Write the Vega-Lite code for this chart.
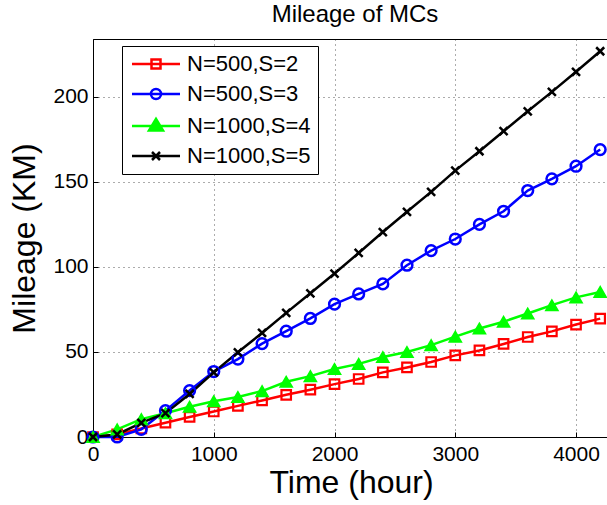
{
  "$schema": "https://vega.github.io/schema/vega-lite/v6.json",
  "width": 516,
  "height": 398,
  "autosize": "none",
  "padding": {"left": 93, "top": 39, "right": -2, "bottom": 68},
  "background": "white",
  "title": {"text": "Mileage of MCs", "font": "Liberation Sans", "fontSize": 24, "fontWeight": "normal", "color": "#000", "offset": 12, "dx": 4, "anchor": "middle"},
  "config": {"view": {"stroke": "#000", "strokeWidth": 1}},
  "data": {"values": [
    {"t":0,"v":0,"s":"N=500,S=2"},{"t":200,"v":1.5,"s":"N=500,S=2"},{"t":400,"v":5,"s":"N=500,S=2"},{"t":600,"v":8.4,"s":"N=500,S=2"},{"t":800,"v":11.8,"s":"N=500,S=2"},{"t":1000,"v":15,"s":"N=500,S=2"},{"t":1200,"v":18.3,"s":"N=500,S=2"},{"t":1400,"v":21.5,"s":"N=500,S=2"},{"t":1600,"v":24.8,"s":"N=500,S=2"},{"t":1800,"v":27.8,"s":"N=500,S=2"},{"t":2000,"v":31.1,"s":"N=500,S=2"},{"t":2200,"v":34.1,"s":"N=500,S=2"},{"t":2400,"v":38,"s":"N=500,S=2"},{"t":2600,"v":40.9,"s":"N=500,S=2"},{"t":2800,"v":44.1,"s":"N=500,S=2"},{"t":3000,"v":48,"s":"N=500,S=2"},{"t":3200,"v":50.9,"s":"N=500,S=2"},{"t":3400,"v":54.7,"s":"N=500,S=2"},{"t":3600,"v":58.8,"s":"N=500,S=2"},{"t":3800,"v":62.1,"s":"N=500,S=2"},{"t":4000,"v":66.1,"s":"N=500,S=2"},{"t":4200,"v":69.6,"s":"N=500,S=2"},
    {"t":0,"v":0,"s":"N=500,S=3"},{"t":200,"v":0,"s":"N=500,S=3"},{"t":400,"v":4.5,"s":"N=500,S=3"},{"t":600,"v":15.5,"s":"N=500,S=3"},{"t":800,"v":27.3,"s":"N=500,S=3"},{"t":1000,"v":38.5,"s":"N=500,S=3"},{"t":1200,"v":45.8,"s":"N=500,S=3"},{"t":1400,"v":54.9,"s":"N=500,S=3"},{"t":1600,"v":62.2,"s":"N=500,S=3"},{"t":1800,"v":69.7,"s":"N=500,S=3"},{"t":2000,"v":78.1,"s":"N=500,S=3"},{"t":2200,"v":84.1,"s":"N=500,S=3"},{"t":2400,"v":90,"s":"N=500,S=3"},{"t":2600,"v":101,"s":"N=500,S=3"},{"t":2800,"v":109.6,"s":"N=500,S=3"},{"t":3000,"v":116.4,"s":"N=500,S=3"},{"t":3200,"v":125,"s":"N=500,S=3"},{"t":3400,"v":132.7,"s":"N=500,S=3"},{"t":3600,"v":144.9,"s":"N=500,S=3"},{"t":3800,"v":151.8,"s":"N=500,S=3"},{"t":4000,"v":159.2,"s":"N=500,S=3"},{"t":4200,"v":169,"s":"N=500,S=3"},
    {"t":0,"v":0,"s":"N=1000,S=4"},{"t":200,"v":4.5,"s":"N=1000,S=4"},{"t":400,"v":10.5,"s":"N=1000,S=4"},{"t":600,"v":14,"s":"N=1000,S=4"},{"t":800,"v":17.8,"s":"N=1000,S=4"},{"t":1000,"v":21,"s":"N=1000,S=4"},{"t":1200,"v":23.5,"s":"N=1000,S=4"},{"t":1400,"v":27,"s":"N=1000,S=4"},{"t":1600,"v":32.5,"s":"N=1000,S=4"},{"t":1800,"v":35.8,"s":"N=1000,S=4"},{"t":2000,"v":40,"s":"N=1000,S=4"},{"t":2200,"v":43,"s":"N=1000,S=4"},{"t":2400,"v":47,"s":"N=1000,S=4"},{"t":2600,"v":50,"s":"N=1000,S=4"},{"t":2800,"v":54,"s":"N=1000,S=4"},{"t":3000,"v":59,"s":"N=1000,S=4"},{"t":3200,"v":63.8,"s":"N=1000,S=4"},{"t":3400,"v":67.8,"s":"N=1000,S=4"},{"t":3600,"v":72.6,"s":"N=1000,S=4"},{"t":3800,"v":77.5,"s":"N=1000,S=4"},{"t":4000,"v":82.1,"s":"N=1000,S=4"},{"t":4200,"v":85.3,"s":"N=1000,S=4"},
    {"t":0,"v":0,"s":"N=1000,S=5"},{"t":200,"v":1.5,"s":"N=1000,S=5"},{"t":400,"v":8.3,"s":"N=1000,S=5"},{"t":600,"v":14,"s":"N=1000,S=5"},{"t":800,"v":25.3,"s":"N=1000,S=5"},{"t":1000,"v":38,"s":"N=1000,S=5"},{"t":1200,"v":49.8,"s":"N=1000,S=5"},{"t":1400,"v":61.2,"s":"N=1000,S=5"},{"t":1600,"v":73,"s":"N=1000,S=5"},{"t":1800,"v":84.5,"s":"N=1000,S=5"},{"t":2000,"v":96.1,"s":"N=1000,S=5"},{"t":2200,"v":108.2,"s":"N=1000,S=5"},{"t":2400,"v":120.5,"s":"N=1000,S=5"},{"t":2600,"v":132.4,"s":"N=1000,S=5"},{"t":2800,"v":144.1,"s":"N=1000,S=5"},{"t":3000,"v":156.6,"s":"N=1000,S=5"},{"t":3200,"v":168,"s":"N=1000,S=5"},{"t":3400,"v":179.8,"s":"N=1000,S=5"},{"t":3600,"v":191.5,"s":"N=1000,S=5"},{"t":3800,"v":202.9,"s":"N=1000,S=5"},{"t":4000,"v":214.7,"s":"N=1000,S=5"},{"t":4200,"v":226.8,"s":"N=1000,S=5"}
  ]},
  "encoding": {
    "x": {"field": "t", "type": "quantitative", "scale": {"domain": [0, 4273], "nice": false, "zero": false},
      "axis": {"title": "Time (hour)", "values": [0, 1000, 2000, 3000, 4000], "format": "d", "grid": true, "gridColor": "#000", "gridDash": [1, 4], "gridOpacity": 0.65, "gridWidth": 1, "ticks": true, "tickSize": -5, "tickColor": "#000", "tickWidth": 1, "domain": true, "domainColor": "#000", "domainWidth": 1, "labelFont": "Liberation Sans", "labelFontSize": 21, "labelColor": "#000", "labelPadding": 11, "labelFlush": false, "titleFont": "Liberation Sans", "titleFontSize": 32, "titleFontWeight": "normal", "titleColor": "#000", "titlePadding": 3}},
    "y": {"field": "v", "type": "quantitative", "scale": {"domain": [0, 234], "nice": false},
      "axis": {"title": "Mileage (KM)", "values": [0, 50, 100, 150, 200], "grid": true, "gridColor": "#000", "gridDash": [1, 4], "gridOpacity": 0.65, "gridWidth": 1, "ticks": true, "tickSize": -5, "tickColor": "#000", "tickWidth": 1, "domain": true, "domainColor": "#000", "domainWidth": 1, "labelFont": "Liberation Sans", "labelFontSize": 21, "labelColor": "#000", "labelPadding": 10, "labelFlush": false, "titleFont": "Liberation Sans", "titleFontSize": 32, "titleFontWeight": "normal", "titleColor": "#000", "titlePadding": 11}},
    "stroke": {"field": "s", "type": "nominal", "scale": {"domain": ["N=500,S=2", "N=500,S=3", "N=1000,S=4", "N=1000,S=5"], "range": ["#ff0000", "#0000ff", "#00ff00", "#000000"]},
      "legend": {"title": null, "orient": "none", "legendX": 29, "legendY": 7, "padding": 7, "strokeColor": "#000", "fillColor": "#fff", "symbolSize": 324, "symbolStrokeWidth": 2.5, "symbolOffset": 16, "labelOffset": 20, "rowPadding": 8, "labelFont": "Liberation Sans", "labelFontSize": 22, "labelColor": "#000", "symbolFillColor": "transparent", "symbolStrokeColor": "#000", "symbolOpacity": 1, "labelLimit": 0}}
  },
  "layer": [
    {
      "mark": {"type": "line", "strokeWidth": 2.5},
      "encoding": {}
    },
    {
      "transform": [{"filter": {"field": "s", "equal": "N=500,S=2"}}],
      "mark": {"type": "point", "shape": "square", "size": 90, "filled": false, "strokeWidth": 2.2, "opacity": 1}
    },
    {
      "transform": [{"filter": {"field": "s", "equal": "N=500,S=3"}}],
      "mark": {"type": "point", "shape": "circle", "size": 115, "filled": false, "strokeWidth": 2.5, "opacity": 1}
    },
    {
      "transform": [{"filter": {"field": "s", "equal": "N=1000,S=4"}}],
      "mark": {"type": "point", "shape": "triangle-up", "size": 150, "filled": true, "fill": "#00ff00", "strokeWidth": 1.5, "opacity": 1}
    },
    {
      "transform": [{"filter": {"field": "s", "equal": "N=1000,S=5"}}],
      "mark": {"type": "point", "shape": "M-1,-1L1,1M1,-1L-1,1", "size": 64, "filled": false, "strokeWidth": 2.5, "opacity": 1}
    },
    {
      "mark": {"type": "point", "filled": false, "strokeWidth": 2.5, "opacity": 0},
      "encoding": {
        "fill": {"field": "s", "type": "nominal", "scale": {"domain": ["N=500,S=2", "N=500,S=3", "N=1000,S=4", "N=1000,S=5"], "range": ["transparent", "transparent", "#00ff00", "transparent"]},
          "legend": {"title": null, "orient": "none", "legendX": 29, "legendY": 7, "padding": 7, "strokeColor": "#000", "fillColor": "#fff", "symbolSize": 324, "symbolStrokeWidth": 2.5, "symbolOffset": 16, "labelOffset": 20, "rowPadding": 8, "labelFont": "Liberation Sans", "labelFontSize": 22, "labelColor": "#000", "symbolFillColor": "transparent", "symbolStrokeColor": "#000", "symbolOpacity": 1, "labelLimit": 0}},
        "shape": {"field": "s", "type": "nominal", "scale": {"domain": ["N=500,S=2", "N=500,S=3", "N=1000,S=4", "N=1000,S=5"], "range": ["M-2.667,0H2.667M-0.5,-0.5H0.5V0.5H-0.5Z", "M-2.667,0H2.667M0.556,0A0.556,0.556,0,1,1,-0.556,0A0.556,0.556,0,1,1,0.556,0Z", "M-2.667,0H2.667M0,-0.78L0.78,0.5H-0.78Z", "M-2.667,0H2.667M-0.444,-0.444L0.444,0.444M0.444,-0.444L-0.444,0.444"]},
          "legend": {"title": null, "orient": "none", "legendX": 29, "legendY": 7, "padding": 7, "strokeColor": "#000", "fillColor": "#fff", "symbolSize": 324, "symbolStrokeWidth": 2.5, "symbolOffset": 16, "labelOffset": 20, "rowPadding": 8, "labelFont": "Liberation Sans", "labelFontSize": 22, "labelColor": "#000", "symbolFillColor": "transparent", "symbolStrokeColor": "#000", "symbolOpacity": 1, "labelLimit": 0}}
      }
    }
  ]
}
